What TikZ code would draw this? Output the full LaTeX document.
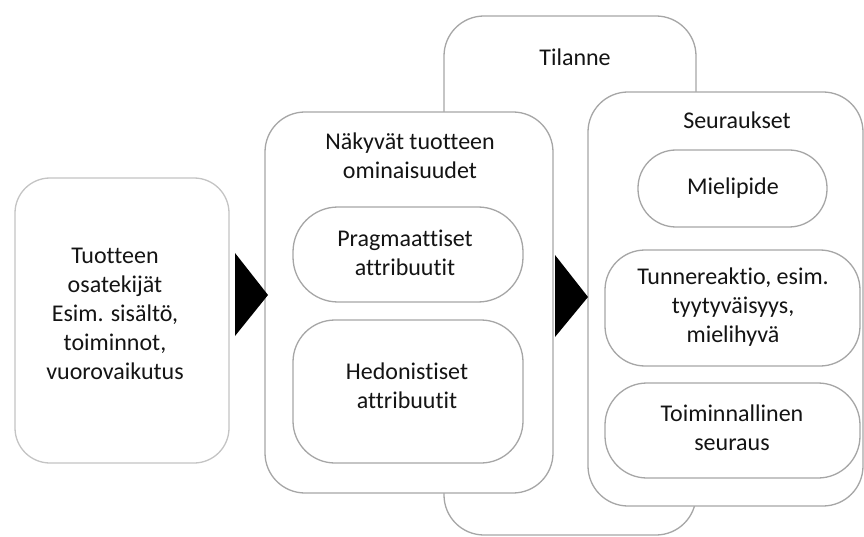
\documentclass[tikz,border=0pt]{standalone}
\usepackage{fontspec}
\setmainfont{Carlito}[Ligatures={NoCommon}]
\definecolor{edge}{HTML}{A6A6A6}
\definecolor{edgelight}{HTML}{C4C4C4}
\definecolor{ink}{HTML}{141414}
\begin{document}
\begin{tikzpicture}[x=1pt,y=-1pt,
  box/.style={draw=edge,line width=1.3pt,fill=white,rectangle,inner sep=0pt},
  lbl/.style={align=center,text=ink,font=\fontsize{24}{29}\selectfont,inner sep=0pt},
  tri/.style={fill=black,draw=none}]
\useasboundingbox (0,0) rectangle (864,537);
\fill[white] (0,0) rectangle (864,537);
% situation box (behind)
\node[box,minimum width=252pt,minimum height=519pt,rounded corners=40pt] (tilanne) at (570,275.5) {};
\node[lbl] (tilannet) at (575,57) {Tilanne};
% left box
\node[box,draw=edgelight,minimum width=214pt,minimum height=285pt,rounded corners=35pt] (left) at (122,320.5) {};
\node[lbl] (leftt) at (115,314) {Tuotteen\\osatekijät\\Esim. sisältö,\\toiminnot,\\vuorovaikutus};
% middle box
\node[box,minimum width=288pt,minimum height=381pt,rounded corners=40pt] (mid) at (409,302.5) {};
\node[lbl] (midt) at (410,156) {Näkyvät tuotteen\\ominaisuudet};
\node[box,minimum width=230pt,minimum height=95pt,rounded corners=45pt] (prag) at (408,254.5) {};
\node[lbl] (pragt) at (405,253) {Pragmaattiset\\attribuutit};
\node[box,minimum width=230pt,minimum height=143pt,rounded corners=42pt] (hedon) at (408,391.5) {};
\node[lbl] (hedont) at (407,386) {Hedonistiset\\attribuutit};
% right box
\node[box,minimum width=275pt,minimum height=414pt,rounded corners=40pt] (right) at (725.5,299) {};
\node[lbl] (rightt) at (737,120) {Seuraukset};
\node[box,minimum width=189pt,minimum height=77pt,rounded corners=38pt] (mieli) at (732.5,188.5) {};
\node[lbl] (mielit) at (733,188) {Mielipide};
\node[box,minimum width=255pt,minimum height=116pt,rounded corners=40pt] (tunne) at (732.5,308) {};
\node[lbl] (tunnet) at (733,307) {Tunnereaktio, esim.\\tyytyväisyys,\\mielihyvä};
\node[box,minimum width=255pt,minimum height=95pt,rounded corners=42pt] (toimi) at (732.5,430.5) {};
\node[lbl] (toimit) at (732,428) {Toiminnallinen\\seuraus};
% arrows
\coordinate (a1) at (235,253);
\coordinate (b1) at (235,336);
\coordinate (c1) at (268,295);
\coordinate (a2) at (555,255);
\coordinate (b2) at (555,337);
\coordinate (c2) at (588,297);
\fill[tri] (a1) -- (c1) -- (b1) -- cycle;
\fill[tri] (a2) -- (c2) -- (b2) -- cycle;
\end{tikzpicture}
\end{document}
